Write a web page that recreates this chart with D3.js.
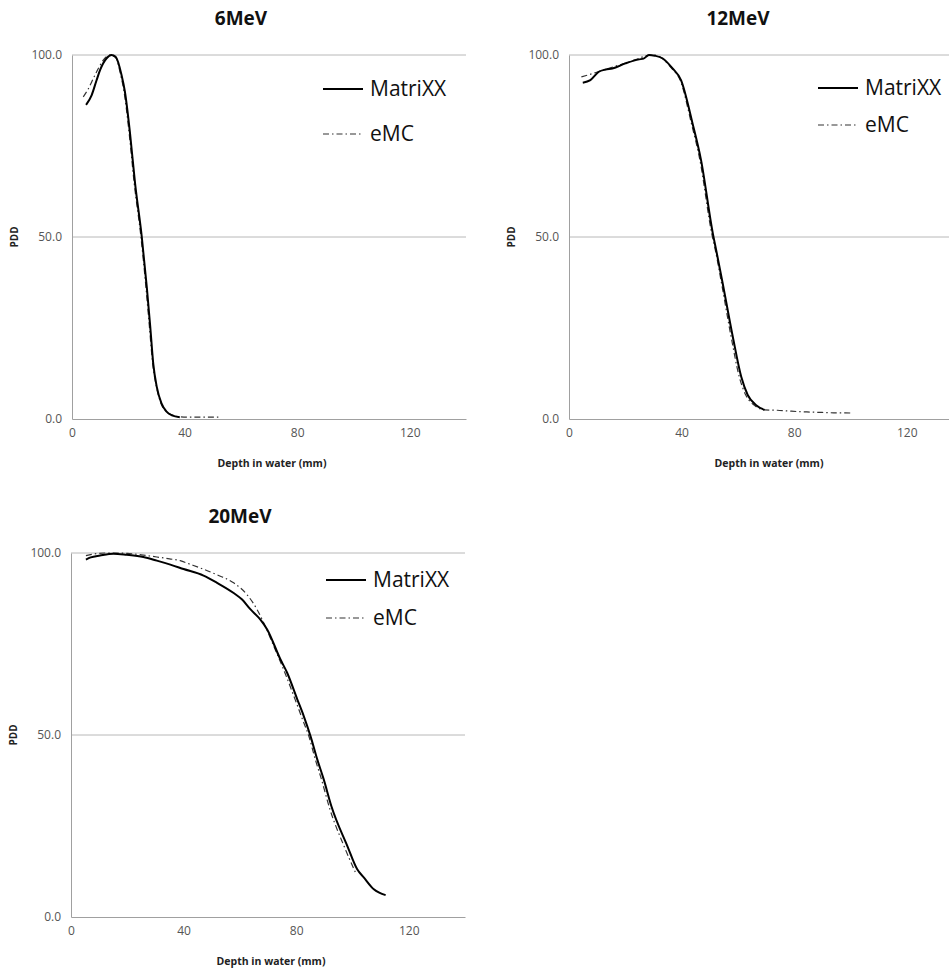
<!DOCTYPE html>
<html>
<head>
<meta charset="utf-8">
<script src="https://cdn.jsdelivr.net/npm/d3@7"></script>
<style>
  html, body { margin: 0; padding: 0; background: #fff; }
  svg { display: block; }
</style>
</head>
<body>
<svg id="chart" width="949" height="970"></svg>
<script>
// ---- data ----
const panelTitles = ["6MeV", "12MeV", "20MeV"];
const seriesNames = ["MatriXX", "eMC"];
const xTicks = [0, 40, 80, 120];
const yTicks = [0, 50, 100];
const xLabel = "Depth in water (mm)";
const yLabel = "PDD";

const depth6Matrixx = [5, 7, 8.7, 10, 12.3, 14, 15.5, 17.6, 18.8, 20.6, 22.4, 24.8, 26.6, 27.8, 28.9, 30.1, 31.8, 33.6, 35.5, 38.3];
const pdd6Matrixx   = [86.3, 89, 93, 95.9, 99.1, 100, 99.5, 94.5, 89.9, 78.6, 64.8, 50, 36, 25.4, 15, 8.9, 4.3, 2.0, 1.0, 0.5];
const depth6Emc = [4, 6, 7.6, 9.5, 11.1, 13.5, 15.5, 17.3, 18.5, 20.3, 22.1, 24.5, 26.3, 27.5, 28.7, 30, 31.6, 33.5, 36, 38.3, 42, 46, 52];
const pdd6Emc   = [88.5, 91, 93.6, 96.5, 98.6, 100, 99.3, 94.5, 89.9, 78.6, 64.8, 50, 36, 25.4, 15, 8.9, 4.3, 2.0, 1.0, 0.6, 0.5, 0.5, 0.5];

const depth12Matrixx = [4.9, 7.6, 10.6, 13, 15.4, 20.1, 24.9, 26.5, 28.4, 30.5, 33.2, 36.8, 39.8, 43.9, 46.9, 51.1, 52.3, 54.6, 58.2, 61.2, 63.5, 66.5, 69.5];
const pdd12Matrixx   = [92.4, 93.1, 95.4, 96.0, 96.3, 97.7, 98.8, 99.0, 100, 99.8, 99.1, 96.3, 93.1, 81.2, 71.2, 51.0, 46.4, 37.3, 22.6, 11.6, 6.6, 3.8, 2.5];
const depth12Emc = [4.4, 8, 12, 16, 20, 24, 27, 30, 33, 36.5, 39.5, 43.5, 46.5, 50.7, 52, 54.2, 57.6, 60.5, 62.8, 65.8, 69.5, 74, 78, 82, 86, 90, 94, 98, 101];
const pdd12Emc   = [94.0, 94.8, 95.8, 96.8, 97.8, 98.8, 99.7, 100, 99.1, 96.3, 93.1, 81.2, 71.2, 51.0, 46.4, 37.3, 22.6, 11.6, 6.6, 3.8, 2.5, 2.4, 2.2, 2.0, 1.9, 1.8, 1.7, 1.7, 1.6];

const depth20Matrixx = [5.3, 7, 10.3, 15.1, 19.8, 25.7, 30.5, 35.3, 40, 47.1, 51.9, 57.8, 60.8, 63.8, 67.3, 69.7, 74.4, 76.8, 80.4, 82.7, 85.1, 87.5, 89.8, 92.5, 98.2, 101.7, 104.1, 107.6, 111.8];
const pdd20Matrixx   = [98.2, 98.8, 99.3, 99.8, 99.5, 98.9, 97.9, 96.8, 95.6, 93.8, 91.8, 89.0, 87.2, 84.5, 81.7, 79.0, 70.8, 67.1, 59.8, 55.2, 49.7, 43.3, 37.8, 30.5, 19.5, 13.1, 10.8, 7.6, 6.0];
const depth20Emc = [5.3, 8, 12, 16, 20, 25, 30.5, 35, 38.8, 42, 45.9, 51.9, 57.8, 62.5, 66.1, 68.5, 72, 76, 80, 82.4, 84.5, 86.8, 89, 92, 97, 101.1];
const pdd20Emc   = [99.3, 99.7, 100, 100, 99.9, 99.5, 98.9, 98.4, 97.9, 97.0, 95.9, 94.0, 91.8, 88.6, 84.5, 80.8, 74.5, 67.1, 59.0, 54.0, 49.7, 43.3, 37.8, 29.6, 19.5, 12.2];

// ---- layout ----
const svg = d3.select("#chart");
const FONT = "'Open Sans', 'Noto Sans', sans-serif";

const panels = [
  { title: panelTitles[0], left: 72, top: 55, m: [depth6Matrixx, pdd6Matrixx], e: [depth6Emc, pdd6Emc], leg: { x: 323, y1: 89, y2: 134 } },
  { title: panelTitles[1], left: 569, top: 55, m: [depth12Matrixx, pdd12Matrixx], e: [depth12Emc, pdd12Emc], leg: { x: 818, y1: 88, y2: 125 } },
  { title: panelTitles[2], left: 71, top: 553, m: [depth20Matrixx, pdd20Matrixx], e: [depth20Emc, pdd20Emc], leg: { x: 326, y1: 580, y2: 618 } }
];
const W = 394, H = 364;

panels.forEach(p => {
  const g = svg.append("g");
  const x = d3.scaleLinear().domain([0, 140]).range([p.left, p.left + W]);
  const y = d3.scaleLinear().domain([0, 100]).range([p.top + H, p.top]);

  // gridlines
  g.selectAll("line.grid").data(yTicks.filter(t => t > 0)).join("line")
    .attr("x1", p.left).attr("x2", p.left + W)
    .attr("y1", d => y(d)).attr("y2", d => y(d))
    .attr("stroke", "#b8b8b8").attr("stroke-width", 1);

  // axes
  const xAxis = d3.axisBottom(x).tickValues(xTicks).tickSize(0).tickPadding(9);
  const gx = g.append("g").attr("transform", `translate(0,${p.top + H})`).call(xAxis);
  gx.select(".domain").attr("stroke", "#a0a0a0");
  gx.selectAll("text").attr("font-family", FONT).attr("font-size", 12).attr("fill", "#555");

  const yAxis = d3.axisLeft(y).tickValues(yTicks).tickSize(0).tickPadding(10).tickFormat(d3.format(".1f"));
  const gy = g.append("g").attr("transform", `translate(${p.left},0)`).call(yAxis);
  gy.select(".domain").attr("stroke", "#a0a0a0");
  gy.selectAll("text").attr("font-family", FONT).attr("font-size", 12).attr("fill", "#555");

  // titles
  g.append("text").attr("x", p.left + 169).attr("y", p.top - 30)
    .attr("text-anchor", "middle").attr("font-family", FONT).attr("font-weight", "bold")
    .attr("font-size", 19).attr("fill", "#111").text(p.title);
  g.append("text").attr("x", p.left + 200).attr("y", p.top + H + 48)
    .attr("text-anchor", "middle").attr("font-family", FONT).attr("font-weight", "bold")
    .attr("font-size", 10.5).attr("fill", "#222").text(xLabel);
  g.append("text").attr("transform", `translate(${p.left - 54},${p.top + H / 2}) rotate(-90)`)
    .attr("text-anchor", "middle").attr("font-family", FONT).attr("font-weight", "bold")
    .attr("font-size", 10).attr("fill", "#222").text(yLabel);

  const line = d3.line().x(d => x(d[0])).y(d => y(d[1])).curve(d3.curveMonotoneX);
  const eData = d3.zip(p.e[0], p.e[1]);
  const mData = d3.zip(p.m[0], p.m[1]);

  g.append("path").datum(eData).attr("d", line)
    .attr("fill", "none").attr("stroke", "#333").attr("stroke-width", 1.2)
    .attr("stroke-dasharray", "6,3,1.5,3");
  g.append("path").datum(mData).attr("d", line)
    .attr("fill", "none").attr("stroke", "#000").attr("stroke-width", 2)
    .attr("stroke-linejoin", "round");

  // legend
  const L = p.leg;
  g.append("line").attr("x1", L.x).attr("x2", L.x + 40).attr("y1", L.y1).attr("y2", L.y1)
    .attr("stroke", "#000").attr("stroke-width", 2);
  g.append("line").attr("x1", L.x).attr("x2", L.x + 40).attr("y1", L.y2).attr("y2", L.y2)
    .attr("stroke", "#333").attr("stroke-width", 1.2).attr("stroke-dasharray", "6,3,1.5,3");
  g.append("text").attr("x", L.x + 47).attr("y", L.y1).attr("dy", "0.35em")
    .attr("font-family", FONT).attr("font-size", 21).attr("fill", "#111").text(seriesNames[0]);
  g.append("text").attr("x", L.x + 47).attr("y", L.y2).attr("dy", "0.35em")
    .attr("font-family", FONT).attr("font-size", 21).attr("fill", "#111").text(seriesNames[1]);
});
</script>
</body>
</html>
